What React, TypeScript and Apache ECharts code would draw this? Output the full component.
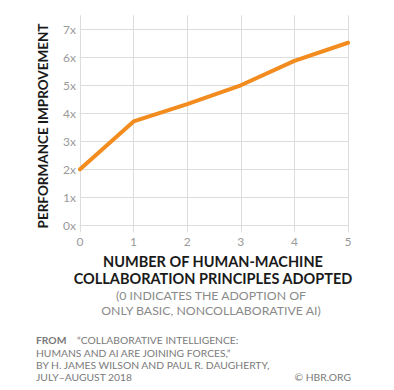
import React, { useEffect, useRef } from "react";
import * as echarts from "echarts";

const categories = ["0", "1", "2", "3", "4", "5"];
const improvement = [2.0, 3.71, 4.33, 5.0, 5.87, 6.52];
const yTicks = [0, 1, 2, 3, 4, 5, 6, 7];
const yTitle = "PERFORMANCE IMPROVEMENT";
const xTitle = ["NUMBER OF HUMAN-MACHINE", "COLLABORATION PRINCIPLES ADOPTED"];
const xNote = ["(0 INDICATES THE ADOPTION OF", "ONLY BASIC, NONCOLLABORATIVE AI)"];
const sourceLabel = "FROM";
const sourceLines = [
  "“COLLABORATIVE INTELLIGENCE:",
  "HUMANS AND AI ARE JOINING FORCES,”",
  "BY H. JAMES WILSON AND PAUL R. DAUGHERTY,",
  "JULY–AUGUST 2018",
];
const credit = "© HBR.ORG";

const FONT = "Lato, 'Noto Sans', sans-serif";

export default function App() {
  const ref = useRef<HTMLDivElement>(null);
  useEffect(() => {
    document.body.style.margin = "0";
    const chart = echarts.init(ref.current!, null, { renderer: "svg" });
    chart.setOption({
      animation: false,
      backgroundColor: "#ffffff",
      textStyle: { fontFamily: FONT },
      grid: { left: 80, right: 46, top: 15.3, bottom: 390 - 232.3 },
      xAxis: {
        type: "value",
        min: 0,
        max: 5,
        interval: 1,
        axisLine: { show: false },
        axisTick: { show: false },
        splitLine: { show: true, lineStyle: { color: "#dcdcdc", width: 1 } },
        axisLabel: {
          color: "#9a9a9a",
          fontSize: 12,
          fontFamily: FONT,
          margin: 3,
          formatter: (v: number) => categories[v] ?? "",
        },
      },
      yAxis: {
        type: "value",
        min: -0.25,
        max: 7.5,
        axisLine: { show: false },
        axisTick: { show: false, customValues: yTicks },
        splitLine: { show: true, lineStyle: { color: "#dcdcdc", width: 1 } },
        axisLabel: {
          customValues: yTicks,
          color: "#9a9a9a",
          fontSize: 12,
          fontFamily: FONT,
          margin: 4,
          formatter: (v: number) => `${v}x`,
        },
      },
      series: [
        {
          type: "line",
          data: improvement.map((v, i) => [i, v]),
          symbol: "none",
          lineStyle: { color: "#f28c1f", width: 4, cap: "round", join: "round" },
        },
      ],
      graphic: [
        {
          type: "text",
          x: 43,
          y: 126,
          rotation: Math.PI / 2,
          style: {
            text: yTitle,
            font: `bold 13.5px ${FONT}`,
            fill: "#1a1a1a",
            align: "center",
            verticalAlign: "middle",
          },
        },
        {
          type: "text",
          x: 213,
          y: 270,
          style: {
            text: xTitle.join("\n"),
            font: `bold 14.5px ${FONT}`,
            lineHeight: 16.5,
            fill: "#1a1a1a",
            align: "center",
            verticalAlign: "middle",
          },
        },
        {
          type: "text",
          x: 211,
          y: 303,
          style: {
            text: xNote.join("\n"),
            font: `12.3px ${FONT}`,
            lineHeight: 14.5,
            fill: "#8a8a8a",
            align: "center",
            verticalAlign: "middle",
          },
        },
        {
          type: "text",
          x: 36,
          y: 340,
          style: {
            text: sourceLabel,
            font: `bold 10.3px ${FONT}`,
            fill: "#7a7a7a",
            verticalAlign: "middle",
          },
        },
        {
          type: "text",
          x: 77,
          y: 340,
          style: {
            text: sourceLines[0],
            font: `10.3px ${FONT}`,
            fill: "#7a7a7a",
            verticalAlign: "middle",
          },
        },
        {
          type: "text",
          x: 36,
          y: 346.5,
          style: {
            text: sourceLines.slice(1).join("\n"),
            font: `10.3px ${FONT}`,
            lineHeight: 12.3,
            fill: "#7a7a7a",
            verticalAlign: "top",
          },
        },
        {
          type: "text",
          x: 351,
          y: 377,
          style: {
            text: credit,
            font: `10.3px ${FONT}`,
            fill: "#7a7a7a",
            align: "right",
            verticalAlign: "middle",
          },
        },
      ],
    });
    return () => chart.dispose();
  }, []);
  return <div ref={ref} style={{ width: 394, height: 390 }} />;
}
